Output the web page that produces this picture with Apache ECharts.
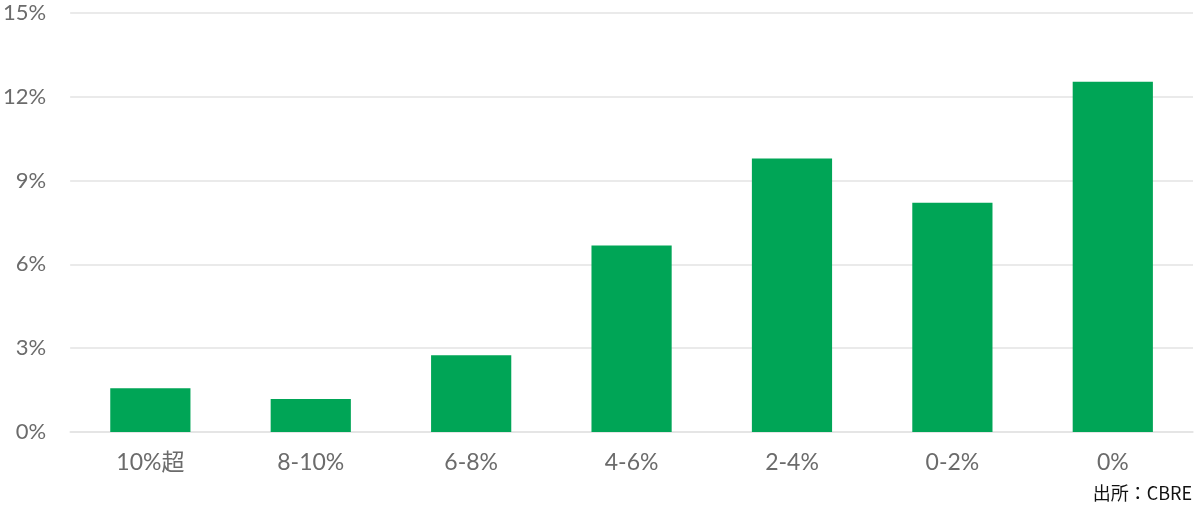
<!DOCTYPE html>
<html><head><meta charset="utf-8">
<script src="https://cdn.jsdelivr.net/npm/echarts@6/dist/echarts.min.js"></script>
<style>html,body{margin:0;padding:0;background:#fff}#c{width:1200px;height:505px}</style>
</head><body><div id="c"></div>
<script>
const categories = ['10%超','8-10%','6-8%','4-6%','2-4%','0-2%','0%'];
const values = [1.57, 1.18, 2.75, 6.68, 9.79, 8.21, 12.54];
const yTicks = [0, 3, 6, 9, 12, 15];

const chart = echarts.init(document.getElementById('c'));
chart.setOption({
  animation: false,
  grid: {left: 69, right: 7, top: 13, bottom: 73},
  xAxis: {
    type: 'category', data: categories,
    axisLine: {show: true, lineStyle: {color: '#e3e3e3', width: 1.5}},
    axisTick: {show: false},
    axisLabel: {color: '#6b6b6b', fontSize: 23, margin: 19, fontFamily: 'Lato, "Noto Sans CJK JP", sans-serif'}
  },
  yAxis: {
    type: 'value', min: yTicks[0], max: yTicks[yTicks.length-1], interval: 3,
    axisLine: {show: false}, axisTick: {show: false},
    splitLine: {lineStyle: {color: '#e3e3e3', width: 1.5}},
    axisLabel: {color: '#6b6b6b', fontSize: 22, margin: 24, formatter: '{value}%', fontFamily: 'Lato, sans-serif'}
  },
  series: [{
    type: 'bar', data: values, barWidth: '50%',
    itemStyle: {color: '#00A556'}
  }],
  graphic: [{
    type: 'text', right: 8, top: 484,
    style: {text: '出所：CBRE', fontSize: 18, fill: '#111', fontFamily: '"Noto Sans CJK JP", sans-serif'}
  }]
});
</script></body></html>
